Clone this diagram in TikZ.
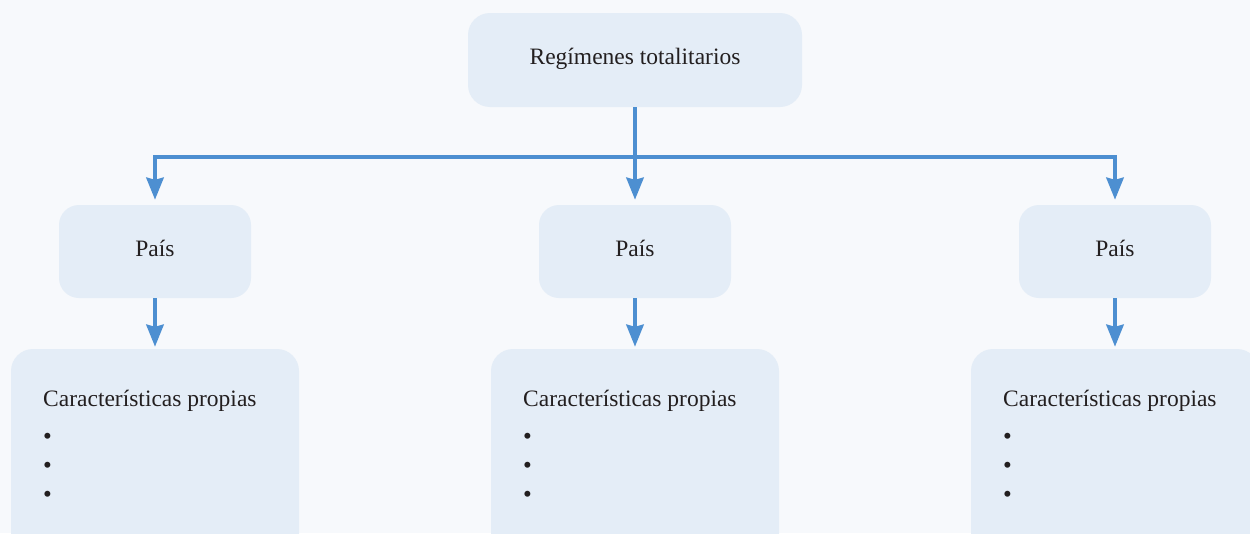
\documentclass[tikz,border=0pt]{standalone}
\usepackage{fontspec}
\setmainfont{Liberation Serif}
\usetikzlibrary{arrows.meta}
\definecolor{bg}{RGB}{247,249,252}
\definecolor{boxfill}{RGB}{228,237,247}
\definecolor{conn}{RGB}{77,143,209}
\definecolor{ink}{RGB}{35,31,32}
\tikzset{
  box/.style={fill=boxfill, draw=none, rounded corners=22pt, inner sep=0pt},
  lbl/.style={text=ink, font=\fontsize{23.5}{28}\selectfont, inner sep=0pt},
  link/.style={draw=conn, line width=4.5pt, -{Stealth[width=17pt,length=22pt,inset=2pt]}, shorten >=5pt},
}
\begin{document}
\begin{tikzpicture}[x=1pt,y=-1pt]
\useasboundingbox (0,0) rectangle (1250,533);
\clip (0,0) rectangle (1250,533);
\fill[bg] (0,0) rectangle (1250,533);
% top
\node[box, minimum width=334pt, minimum height=94pt] (top) at (635,60) {};
\node[lbl] (toptxt) at (635,59) {Regímenes totalitarios};
% country boxes
\foreach \i/\x in {1/155,2/635,3/1115}{
  \node[box, rounded corners=20pt, minimum width=192pt, minimum height=93pt] (p\i) at (\x,251.5) {};
  \node[lbl] (pt\i) at (\x,248) {País};
  \node[box, minimum width=288pt, minimum height=230pt] (c\i) at (\x,464) {};
  \node[lbl, anchor=base west] (ct\i) at (\x-112,406) {Características propias};
  \node[lbl, anchor=base west, font=\fontsize{25}{28}\selectfont] (b1\i) at (\x-112,444) {•};
  \node[lbl, anchor=base west, font=\fontsize{25}{28}\selectfont] (b2\i) at (\x-112,473) {•};
  \node[lbl, anchor=base west, font=\fontsize{25}{28}\selectfont] (b3\i) at (\x-112,502) {•};
}
\coordinate (hub) at (635,157);
\draw[draw=conn, line width=4.5pt] (top.south) -- (hub);
\draw[link] (top.south) -- (p2.north);
\draw[link] (hub) -| (p1.north);
\draw[link] (hub) -| (p3.north);
\foreach \i in {1,2,3}{
  \draw[link, shorten >=2pt] (p\i.south) -- (c\i.north);
}
\end{tikzpicture}
\end{document}
